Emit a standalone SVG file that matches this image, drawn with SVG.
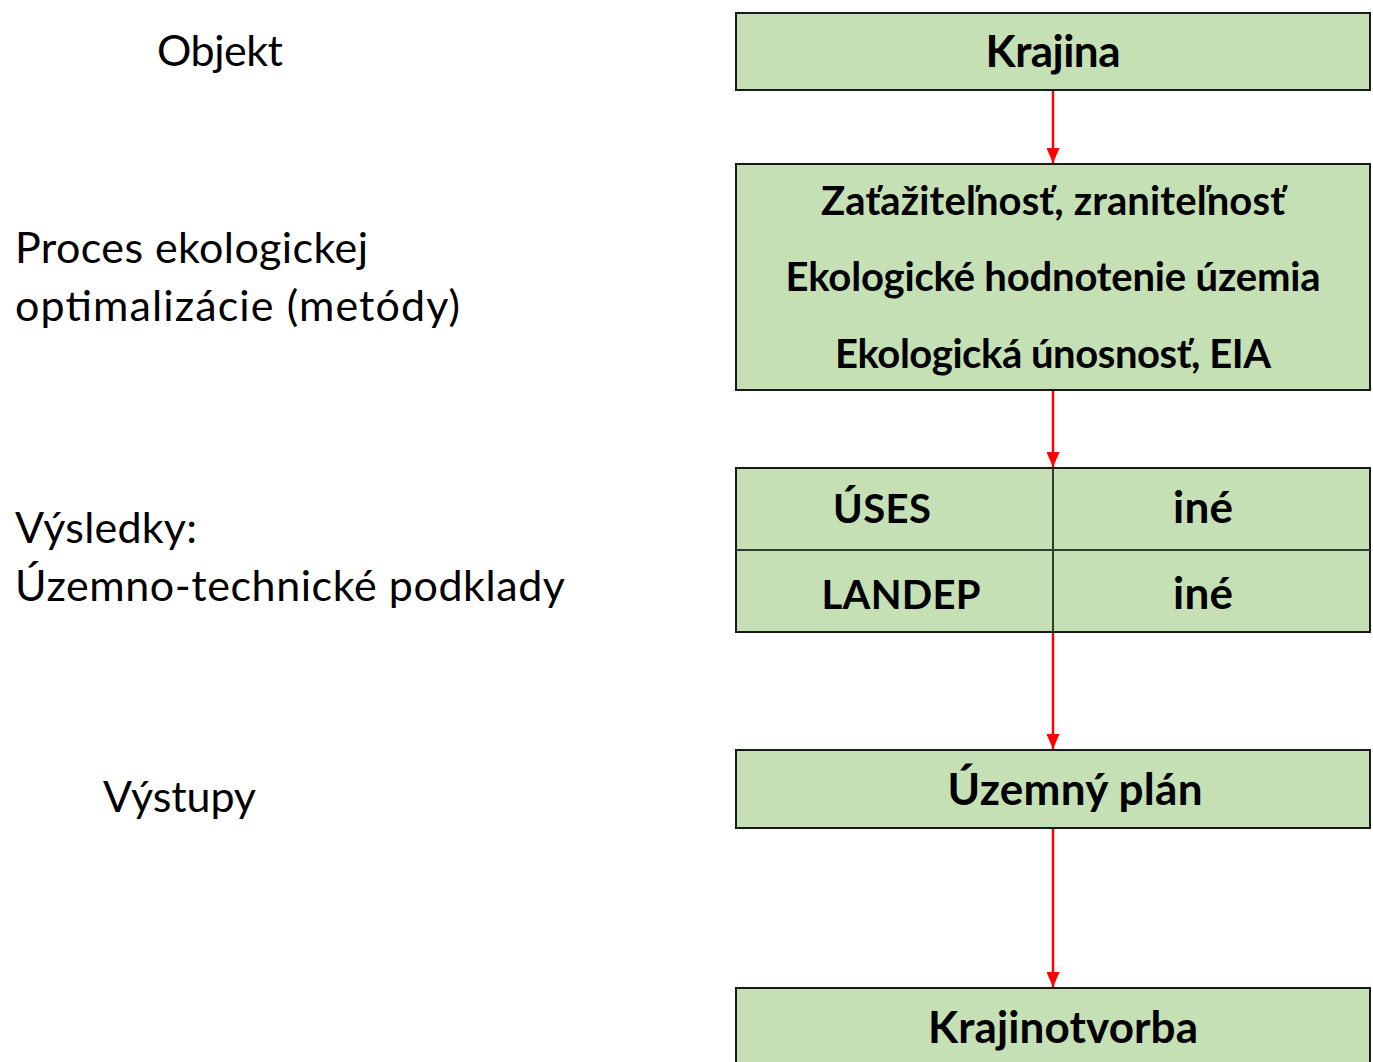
<svg xmlns="http://www.w3.org/2000/svg" width="1373" height="1062" viewBox="0 0 1373 1062">
<style>
.box{fill:#C5E0B4;stroke:#1a1a1a;stroke-width:2}
.div{stroke:#2f3f2f;stroke-width:2}
.b{font-family:Lato,"Liberation Sans",sans-serif;font-weight:bold;font-size:40px;fill:#000;text-anchor:middle}
.bb{font-size:44px}
.l{font-family:Lato,"Liberation Sans",sans-serif;font-size:43px;fill:#000}
.c{stroke:#ff0000;stroke-width:2.5;fill:none;marker-end:url(#ah)}
</style>
<defs>
<marker id="ah" markerWidth="15" markerHeight="13" refX="15" refY="6.5" orient="auto" markerUnits="userSpaceOnUse" viewBox="0 0 15 13">
<path d="M0,0 L15,6.5 L0,13 Z" fill="#ff0000"/>
</marker>
</defs>
<g id="labels">
<text class="l" x="157" y="66" textLength="126">Objekt</text>
<text class="l" x="15" y="263" textLength="353">Proces ekologickej</text>
<text class="l" x="15" y="321" textLength="445">optimalizácie (metódy)</text>
<text class="l" x="15" y="543" textLength="182">Výsledky:</text>
<text class="l" x="15" y="601" textLength="550">Územno-technické podklady</text>
<text class="l" x="103" y="812" textLength="153">Výstupy</text>
</g>
<g id="node-krajina">
<rect class="box" x="736" y="13" width="634" height="77"/>
<text class="b bb" x="1053" y="67" textLength="135">Krajina</text>
</g>
<g id="node-metody">
<rect class="box" x="736" y="164" width="634" height="226"/>
<text class="b" x="1053" y="215" textLength="464">Zaťažiteľnosť, zraniteľnosť</text>
<text class="b" x="1053" y="291" textLength="535">Ekologické hodnotenie územia</text>
<text class="b" x="1053" y="368" textLength="436">Ekologická únosnosť, EIA</text>
</g>
<g id="node-vysledky">
<rect class="box" x="736" y="468" width="634" height="164"/>
<line class="div" x1="736" y1="550" x2="1370" y2="550"/>
<line class="div" x1="1053" y1="468" x2="1053" y2="632"/>
<text class="b" x="882" y="523" textLength="98">ÚSES</text>
<text class="b bb" x="1203" y="523" textLength="60">iné</text>
<text class="b" x="901" y="609" textLength="159">LANDEP</text>
<text class="b bb" x="1203" y="609" textLength="60">iné</text>
</g>
<g id="node-uzemny-plan">
<rect class="box" x="736" y="750" width="634" height="78"/>
<text class="b bb" x="1075" y="805" textLength="255">Územný plán</text>
</g>
<g id="node-krajinotvorba">
<rect class="box" x="736" y="988" width="634" height="90"/>
<text class="b bb" x="1063" y="1043" textLength="270">Krajinotvorba</text>
</g>
<g id="connectors">
<line class="c" x1="1053" y1="91" x2="1053" y2="163"/>
<line class="c" x1="1053" y1="391" x2="1053" y2="467"/>
<line class="c" x1="1053" y1="633" x2="1053" y2="749"/>
<line class="c" x1="1053" y1="829" x2="1053" y2="987"/>
</g>
</svg>
